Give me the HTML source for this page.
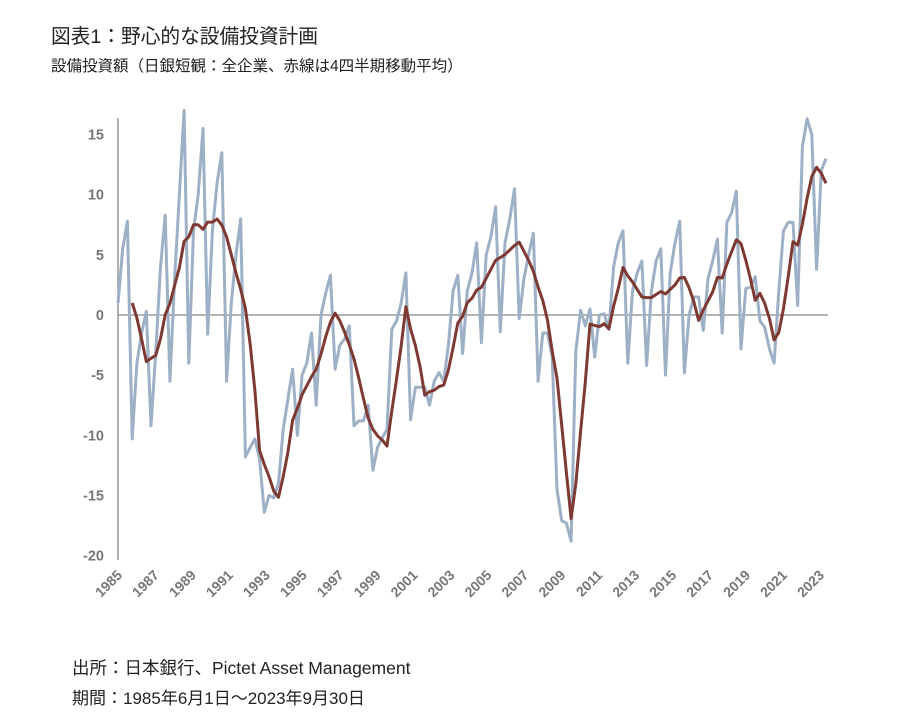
<!DOCTYPE html>
<html><head><meta charset="utf-8">
<style>
body{margin:0;background:#fff;width:916px;height:728px;overflow:hidden;font-family:"Liberation Sans","Noto Sans CJK JP",sans-serif;color:#222}
.t{position:absolute;white-space:nowrap}
</style></head>
<body>
<div class="t" style="left:51px;top:20px;font-size:19.7px;">図表1：野心的な設備投資計画</div>
<div class="t" style="left:51px;top:54px;font-size:15.5px;">設備投資額（日銀短観：全企業、赤線は4四半期移動平均）</div>
<svg id="chart" width="916" height="728" style="position:absolute;left:0;top:0"></svg>
<div class="t" style="left:72px;top:655px;font-size:17.5px;">出所：日本銀行、Pictet Asset Management</div>
<div class="t" style="left:72px;top:684px;font-size:17px;">期間：1985年6月1日～2023年9月30日</div>
<script>
const yTicks=[15,10,5,0,-5,-10,-15,-20];
const xTickYears=[1985,1987,1989,1991,1993,1995,1997,1999,2001,2003,2005,2007,2009,2011,2013,2015,2017,2019,2021,2023];
const capex=[1,5.5,7.8,-10.3,-4,-1.5,0.3,-9.2,-3,4,
8.3,-5.5,3,10,17,-4,7,10,15.5,-1.6,
7,11,13.5,-5.5,1,5,8,-11.8,-11,-10.3,
-12,-16.4,-15,-15.2,-14,-9.5,-7,-4.5,-10,-5,
-4,-1.5,-7.5,0,1.8,3.3,-4.5,-2.5,-2,-0.9,
-9.2,-8.8,-8.8,-7.5,-12.9,-11,-10.2,-9.5,-1.2,-0.5,
1,3.5,-8.7,-6,-6,-6,-7.5,-5.5,-4.8,-5.5,
-2.5,2,3.3,-3.2,2,3.5,6,-2.3,5,6.5,
9,-1.4,6,8,10.5,-0.3,3,5,6.8,-5.5,
-1.5,-1.5,-3.5,-14.5,-17.1,-17.3,-18.8,-3,0.4,-0.9,
0.5,-3.5,0,0.1,-1.2,4,6,7,-4,2,
3.5,4.5,-4.2,2,4.5,5.5,-5,3.5,6,7.8,
-4.8,0,1.5,1.5,-1.3,3,4.5,6.3,-1.5,7.7,
8.5,10.3,-2.8,2.2,2.3,3.2,-0.5,-1,-2.8,-4,
2,7,7.7,7.7,0.8,14,16.3,15,3.8,12,13];

const svg=document.getElementById('chart');
const NS='http://www.w3.org/2000/svg';
const X0=118,X1=826,Y0=315,PX=12.03;
function y(v){return Y0-v*PX;}
function xi(i){return X0+i*(X1-X0)/(capex.length-1);}
function xYear(yr){return 123+(yr-1985)*(702/38);}
function mk(tag,attrs){const e=document.createElementNS(NS,tag);for(const k in attrs)e.setAttribute(k,attrs[k]);svg.appendChild(e);return e;}

const ax=mk('line',{x1:118,y1:118,x2:118,y2:560,stroke:'#999','stroke-width':1.5});


const zl=mk('line',{x1:118,y1:y(0),x2:828,y2:y(0),stroke:'#888','stroke-width':1.2});



yTicks.forEach(v=>{
  const t=mk('text',{x:104,y:y(v)+5,'text-anchor':'end','font-size':14.5,'font-weight':'bold',fill:'#777','font-family':'Liberation Sans, sans-serif'});
  t.textContent=v;
  
  
});
xTickYears.forEach(yr=>{
  const xx=xYear(yr),yy=576;
  const t=mk('text',{x:xx,y:yy,'text-anchor':'end','font-size':14,'font-weight':'bold',fill:'#777','font-family':'Liberation Sans, sans-serif',transform:`rotate(-45 ${xx} ${yy})`});
  t.textContent=yr;
  
  
});

const gp=capex.map((v,i)=>(i?'L':'M')+xi(i).toFixed(1)+','+y(v).toFixed(1)).join('');
const g=mk('path',{d:gp,fill:'none',stroke:'#9db0c5','stroke-width':3,'stroke-linejoin':'round'});



let rp='';
for(let i=3;i<capex.length;i++){
  const m=(capex[i]+capex[i-1]+capex[i-2]+capex[i-3])/4;
  rp+=(i===3?'M':'L')+xi(i).toFixed(1)+','+y(m).toFixed(1);
}
const r=mk('path',{d:rp,fill:'none',stroke:'#7e3a32','stroke-width':3,'stroke-linejoin':'round'});


</script>
</body></html>
